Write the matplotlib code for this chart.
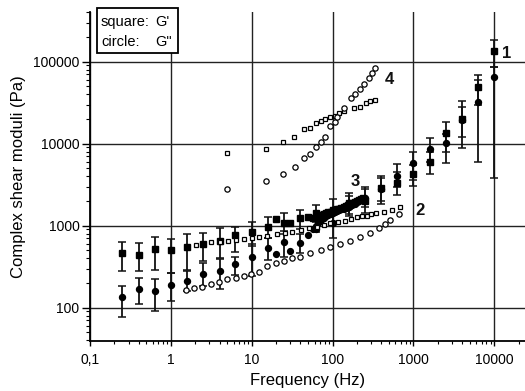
import matplotlib
matplotlib.use('Agg')
import matplotlib.pyplot as plt
import numpy as np
from matplotlib.ticker import FixedLocator, FixedFormatter, LogLocator, NullFormatter
from matplotlib.patches import Rectangle

plt.rcParams['font.family'] = ['Liberation Sans', 'DejaVu Sans']

# ---------------- data ----------------
x_ticks = [0.1, 1, 10, 100, 1000, 10000]
x_ticklabels = ['0,1', '1', '10', '100', '1000', '10000']
y_ticks = [100, 1000, 10000, 100000]
y_ticklabels = ['100', '1000', '10000', '100000']

# Series 1 (filled symbols with error bars)
s1_freq = [0.25, 0.4, 0.63, 1, 1.6, 2.5, 4, 6.3, 10, 16, 25, 40, 63, 100, 160, 250,
           400, 630, 1000, 1600, 2500, 4000, 6300, 10000]
s1_gp = [460, 440, 515, 500, 546, 598, 650, 770, 838, 970, 1090, 1230, 1416, 1550, 1880, 2000,
         2860, 3290, 4270, 5930, 13400, 19900, 48800, 136000]
s1_gp_lo = [283, 280, 288, 263, 288, 371, 400, 480, 560, 700, 800, 900, 1100, 1100, 1400, 1420,
            1840, 2370, 3075, 4270, 7850, 12000, 30000, 85000]
s1_gp_hi = [630, 615, 722, 682, 785, 807, 929, 970, 1120, 1290, 1440, 1550, 1790, 2100, 2480, 2990,
            4070, 4500, 5500, 8000, 18200, 33000, 68900, 184000]
s1_gpp = [134, 168, 161, 189, 214, 257, 280, 338, 418, 530, 640, 620, 900, 1070, 1700, 2200,
          2800, 4070, 5770, 8550, 10100, 19500, 32500, 64600]
s1_gpp_lo = [78, 110, 92, 122, 160, 184, 168, 250, 245, 380, 418, 460, 845, 700, 1300, 1700,
             2000, 3000, 3600, 6000, 5840, 8900, 6000, 3850]
s1_gpp_hi = [185, 228, 224, 263, 283, 354, 390, 420, 600, 700, 850, 800, 1200, 1500, 2300, 2800,
             3800, 5650, 7980, 11830, 13000, 28200, 59800, 85000]

# Series 2 (open symbols, lower)
s2_gp_freq = [2.03, 3.16, 4.0, 5.16, 6.35, 8.07, 10.0, 12.3, 15.3, 20.8, 25.5, 31.8, 40.3, 51.3,
              63.5, 77.6, 94.2, 117, 144, 171, 201, 234, 267, 303, 340, 430, 545, 690]
s2_gp = [582, 628, 640, 656, 670, 682, 700, 720, 740, 792, 810, 846, 880, 930,
         975, 1020, 1070, 1110, 1140, 1200, 1265, 1300, 1330, 1370, 1415, 1480, 1550, 1700]
s2_gpp_freq = [1.53, 1.94, 2.41, 3.18, 3.95, 5.0, 6.35, 8.04, 9.9, 12.3, 15.6, 19.8, 25, 31.7,
               40, 53, 71, 94, 125, 166, 220, 290, 372, 450, 520, 655]
s2_gpp = [164, 172, 180, 195, 207, 224, 233, 243, 255, 275, 322, 347, 374, 400,
          419, 460, 506, 545, 594, 652, 722, 810, 930, 1050, 1190, 1390]

# Series 3 (filled symbols, dense)
s3_freq = [20, 30, 50, 58, 62, 66, 70, 74, 79, 84, 89, 95, 101, 107, 114, 121, 129, 137,
           146, 155, 165, 176, 187, 199, 212, 226, 240]
s3_gp = [1200, 1090, 1290, 1250, 1290, 1300, 1340, 1360, 1400, 1420, 1450, 1480, 1510, 1550,
         1580, 1610, 1650, 1690, 1730, 1770, 1820, 1870, 1920, 1980, 2030, 2100, 2170]
s3_gpp = [450, 490, 770, 900, 1000, 1080, 1150, 1200, 1250, 1300, 1340, 1380, 1420, 1460,
          1500, 1540, 1580, 1620, 1660, 1710, 1760, 1810, 1860, 1920, 1980, 2040, 2110]

# Series 4 (open symbols, upper)
s4_gp_freq = [4.9, 14.9, 24.6, 33.8, 44, 52, 63, 72, 81, 92.6, 106, 120, 138, 184, 220, 262, 294, 339]
s4_gp = [7760, 8550, 10600, 12200, 15000, 15700, 17700, 18900, 19900, 21300, 21900, 23600,
         25100, 27400, 28300, 31700, 33100, 34400]
s4_gpp_freq = [4.9, 14.9, 24.6, 34, 44, 52, 63, 72, 81, 93, 106, 114, 138, 170, 192, 216, 248, 279, 305, 339]
s4_gpp = [2810, 3510, 4240, 5250, 6640, 7470, 9180, 10600, 12200, 16400, 18600, 21300, 27400,
          35700, 40000, 46500, 54100, 63100, 73500, 83500]

curve_labels = ['1', '2', '3', '4']
curve_label_pos = [(14350, 126000), (1196, 1550), (192, 3410), (510, 59900)]

legend_lines = [('square:', "G'"), ('circle:', 'G"')]

# ---------------- plot ----------------
fig = plt.figure(figsize=(5.25, 3.91), dpi=100)
ax = fig.add_axes([0.1714, 0.1286, 0.8286, 0.8407])
ax.set_xscale('log')
ax.set_yscale('log')
ax.set_xlim(0.1, 24000)
ax.set_ylim(39.6, 403000)

ax.set_axisbelow(True)
for v in x_ticks:
    ax.axvline(v, color='#222222', lw=1.0, zorder=0)
for v in y_ticks:
    ax.axhline(v, color='#222222', lw=1.0, zorder=0)

def yerr(vals, lo, hi):
    v = np.array(vals, float)
    return [v - np.array(lo, float), np.array(hi, float) - v]

ek = dict(fmt='none', ecolor='#111111', elinewidth=1.3, capsize=2.6, capthick=1.1, zorder=2)
ax.errorbar(s1_freq, s1_gp, yerr=yerr(s1_gp, s1_gp_lo, s1_gp_hi), **ek)
ax.errorbar(s1_freq, s1_gpp, yerr=yerr(s1_gpp, s1_gpp_lo, s1_gpp_hi), **ek)
ax.plot(s1_freq, s1_gp, 's', color='black', ms=4.0, zorder=3)
ax.plot(s1_freq, s1_gpp, 'o', color='black', ms=4.3, zorder=3)

ax.plot(s3_freq, s3_gp, 's', color='black', ms=4.2, zorder=3)
ax.plot(s3_freq, s3_gpp, 'o', color='black', ms=4.2, zorder=3)

op = dict(mfc='white', mec='black', mew=0.9, ls='none', zorder=4)
ax.plot(s2_gp_freq, s2_gp, 's', ms=3.5, **op)
ax.plot(s2_gpp_freq, s2_gpp, 'o', ms=3.8, **op)
ax.plot(s4_gp_freq, s4_gp, 's', ms=3.5, **op)
ax.plot(s4_gpp_freq, s4_gpp, 'o', ms=3.8, **op)

for lab, (xx, yy) in zip(curve_labels, curve_label_pos):
    ax.text(xx, yy, lab, ha='center', va='center', fontsize=12, fontweight='bold', color='#111111')

# ticks
ax.xaxis.set_major_locator(FixedLocator(x_ticks))
ax.xaxis.set_major_formatter(FixedFormatter(x_ticklabels))
ax.yaxis.set_major_locator(FixedLocator(y_ticks))
ax.yaxis.set_major_formatter(FixedFormatter(y_ticklabels))
ax.xaxis.set_minor_locator(LogLocator(base=10, subs=np.arange(2, 10), numticks=20))
ax.yaxis.set_minor_locator(LogLocator(base=10, subs=np.arange(2, 10), numticks=20))
ax.xaxis.set_minor_formatter(NullFormatter())
ax.yaxis.set_minor_formatter(NullFormatter())
ax.tick_params(axis='x', which='major', direction='out', length=3.5, width=1.0, labelsize=10, pad=5)
ax.tick_params(axis='x', which='minor', direction='out', length=2, width=0.8)
ax.tick_params(axis='y', which='major', direction='out', length=5.5, width=1.0, labelsize=10, pad=2)
ax.tick_params(axis='y', which='minor', direction='out', length=3, width=0.8)

for s in ['top', 'right']:
    ax.spines[s].set_visible(False)
for s in ['left', 'bottom']:
    ax.spines[s].set_linewidth(1.3)

ax.set_xlabel('Frequency (Hz)', fontsize=12, labelpad=5)
ax.set_ylabel('Complex shear moduli (Pa)', fontsize=12, labelpad=5)

# legend box
W, H = 525.0, 391.0
fig.add_artist(Rectangle((96.7 / W, 1 - 53.3 / H), 81 / W, 45 / H, transform=fig.transFigure,
                         fill=True, facecolor='white', edgecolor='black', lw=1.3, zorder=10))
for i, (a, b) in enumerate(legend_lines):
    yy = 1 - (22 + 20 * i) / H
    fig.text(101.0 / W, yy, a, fontsize=10.5, va='center', ha='left', zorder=11)
    fig.text(155.5 / W, yy, b, fontsize=10.5, va='center', ha='left', zorder=11)

fig.savefig('out.png', dpi=100)
